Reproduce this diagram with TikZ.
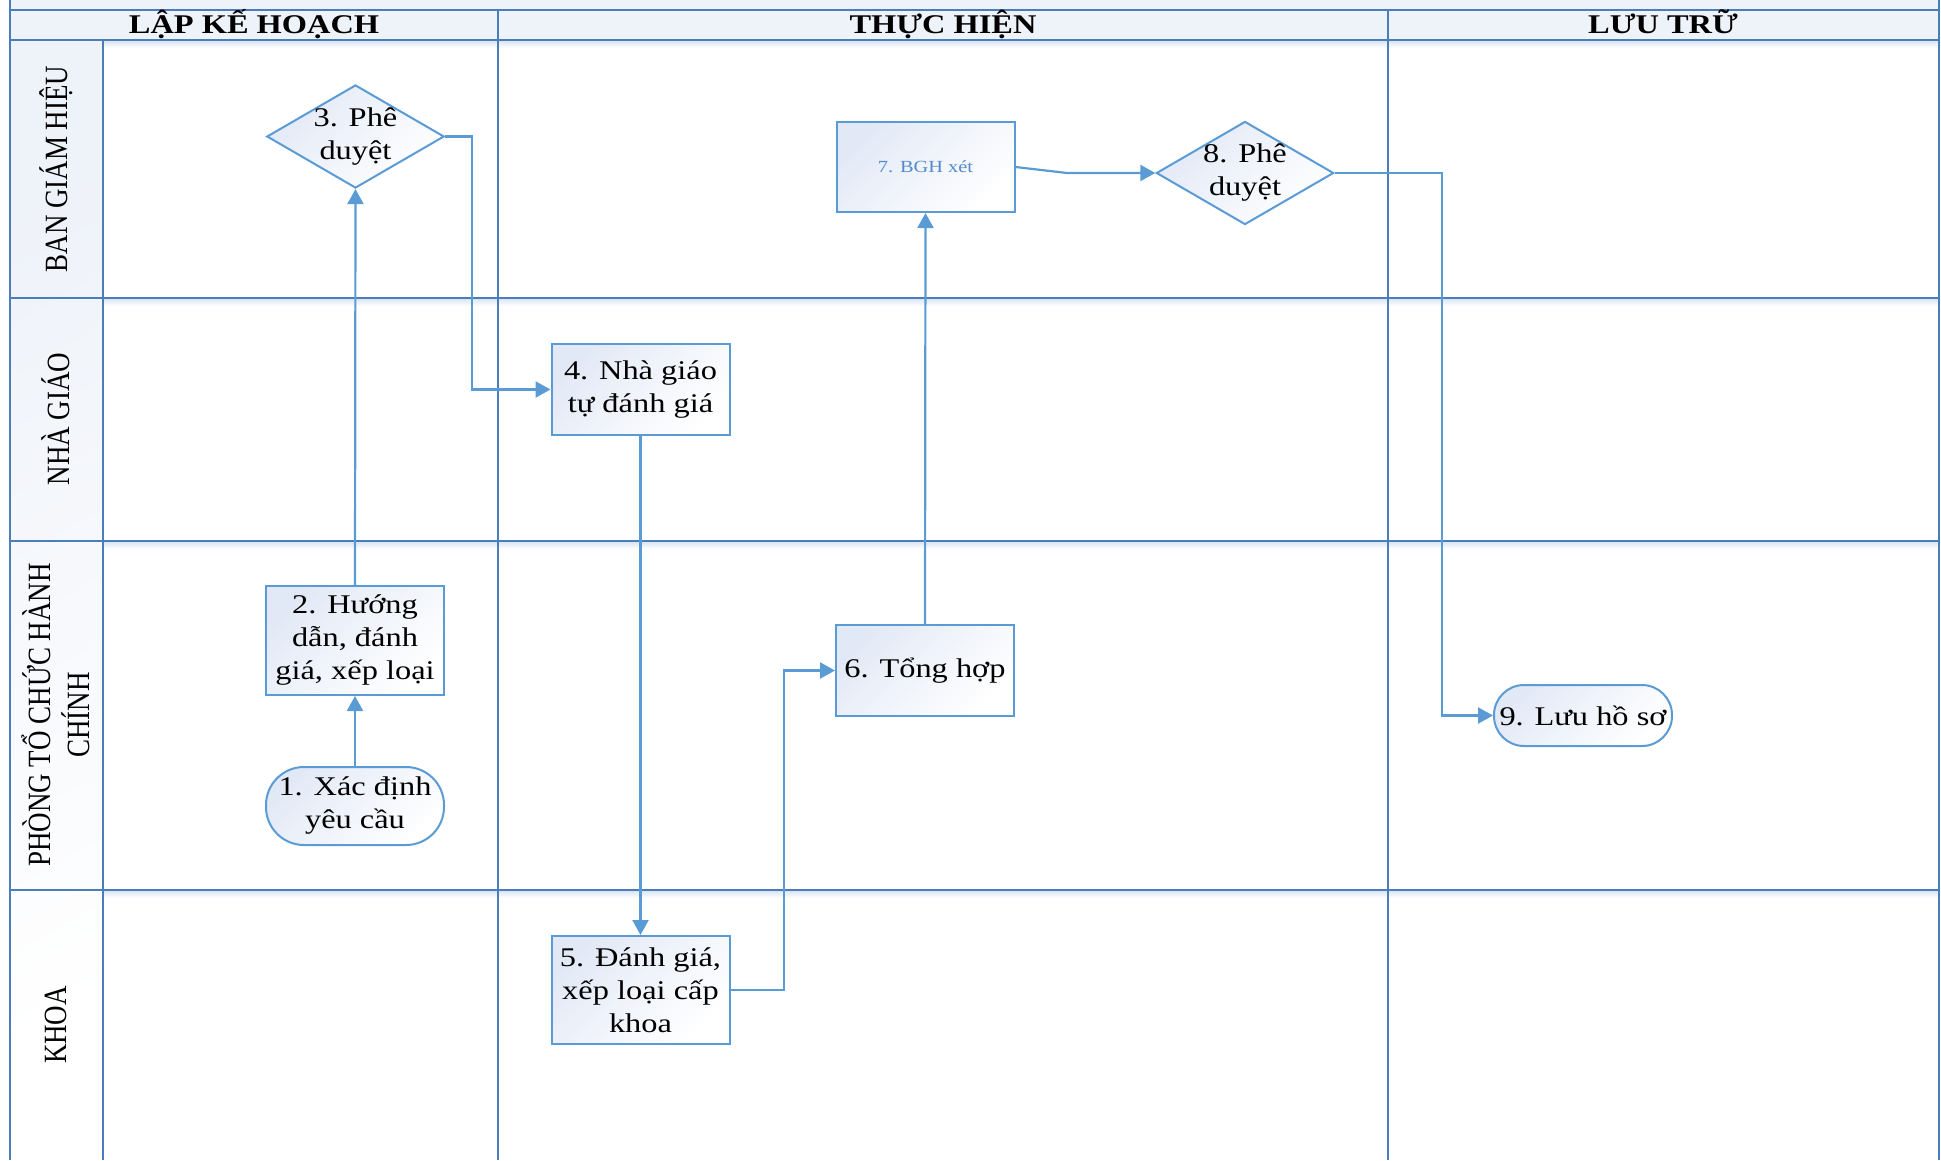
\documentclass[tikz,border=0pt]{standalone}
\usepackage{fontspec}
\setmainfont{Liberation Serif}[FakeStretch=1.2]
\newfontfamily\lanefont{Liberation Serif}[FakeStretch=0.833]
\definecolor{swline}{RGB}{74,126,187}
\definecolor{swflow}{RGB}{91,155,213}
\definecolor{swshade}{RGB}{226,233,246}
\definecolor{swhead}{RGB}{238,242,249}
\definecolor{swhalo}{RGB}{214,227,243}
\definecolor{swtext}{RGB}{84,138,204}
\usetikzlibrary{arrows.meta,shapes.geometric,calc}

\begin{document}
\begin{tikzpicture}[x=1pt, y=-1pt,
  lane/.style={draw=swline, line width=2.2pt},
  hdr/.style={font=\bfseries\fontsize{27}{30}\selectfont, anchor=base},
  lbl/.style={rotate=90, font=\lanefont\fontsize{32.4}{39}\selectfont, align=center},
  act/.style={rectangle, draw=swflow, line width=2pt, minimum width=178pt, minimum height=91pt,
              inner sep=4pt, align=center, top color=swshade, bottom color=white, shading angle=45,
              font=\fontsize{27}{33}\selectfont},
  dec/.style={diamond, draw=swflow, line width=2pt, aspect=1.72, inner sep=-1pt,
              minimum width=177pt, minimum height=103pt, align=center,
              top color=swshade, bottom color=white, shading angle=45, font=\fontsize{27}{33}\selectfont},
  term/.style={rectangle, rounded corners=#1, draw=swflow, line width=2pt, minimum width=178pt,
               inner sep=3pt, align=center, top color=swshade, bottom color=white, shading angle=45,
               font=\fontsize{27}{33}\selectfont},
  flow/.style={-{Triangle[length=15pt, width=16pt]}, draw=swflow, line width=2.2pt}
]
\useasboundingbox (0,0) rectangle (1941,1160);

% Pool background
\fill[swhead] (10,0) rectangle (1939,40);
\shade[top color=swhead, bottom color=white, shading angle=30] (10,40) rectangle (103,1160);
\foreach \yy in {40,298,541,890}
  \shade[top color=swhalo, bottom color=white] (103,\yy) rectangle (1939,\yy+8);

% Lane lines
\draw[lane] (10,10) -- (1939,10);
\draw[lane] (10,40) -- (1939,40);
\draw[lane] (10,298) -- (1939,298);
\draw[lane] (10,541) -- (1939,541);
\draw[lane] (10,890) -- (1939,890);
\draw[lane] (10,0) -- (10,1160);
\draw[lane] (103,40) -- (103,1160);
\draw[lane] (498,10) -- (498,1160);
\draw[lane] (1388,10) -- (1388,1160);
\draw[lane] (1939,0) -- (1939,1160);

% Phase headers
\node[hdr] (hplan) at (254,33) {LẬP KẾ HOẠCH};
\node[hdr] (hdo) at (943,33) {THỰC HIỆN};
\node[hdr] (hkeep) at (1663,33) {LƯU TRỮ};

% Lane labels
\node[lbl] (lbgh) at (56,169) {BAN GIÁM HIỆU};
\node[lbl] (lng) at (56,419) {NHÀ GIÁO};
\node[lbl] (lphong) at (56,715) {PHÒNG TỔ CHỨC HÀNH\\CHÍNH};
\node[lbl] (lkhoa) at (56,1025) {KHOA};

% Steps
\node[term=38pt, minimum height=78pt] (s1) at (355,806) {1. Xác định\\yêu cầu};
\node[act, minimum height=109pt] (s2) at (355,640.5) {2. Hướng\\dẫn, đánh\\giá, xếp loại};
\node[dec] (s3) at (355.5,136.5) {3. Phê\\duyệt};
\node[act] (s4) at (640.5,389.5) {4. Nhà giáo\\tự đánh giá};
\node[act, minimum height=108pt] (s5) at (640.5,990) {5. Đánh giá,\\xếp loại cấp\\khoa};
\node[act] (s6) at (925,670.5) {6. Tổng hợp};
\node[act, minimum height=90pt, font=\fontsize{17}{20}\selectfont, text=swtext] (s7) at (925.5,167) {7. BGH xét};
\node[dec] (s8) at (1245,173) {8. Phê\\duyệt};
\node[term=30pt, minimum height=61pt] (s9) at (1583,715.5) {9. Lưu hồ sơ};

% Connectors
\coordinate (k78) at (1067,173);
\draw[flow] (s1.north) -- (s2.south);
\draw[flow] (s2.north) -- (s3.south);
\draw[flow] (s3.east) -- ++(27,0) |- (s4.west);
\draw[flow] (s4.south) -- (s5.north);
\draw[flow] (s5.east) -- ++(53.5,0) |- (s6.west);
\draw[flow] (s6.north) -- (s7.south);
\draw[flow] (s7.east) -- (k78) -- (s8.west);
\draw[flow] (s8.east) -- ++(107,0) |- (s9.west);
\end{tikzpicture}
\end{document}
